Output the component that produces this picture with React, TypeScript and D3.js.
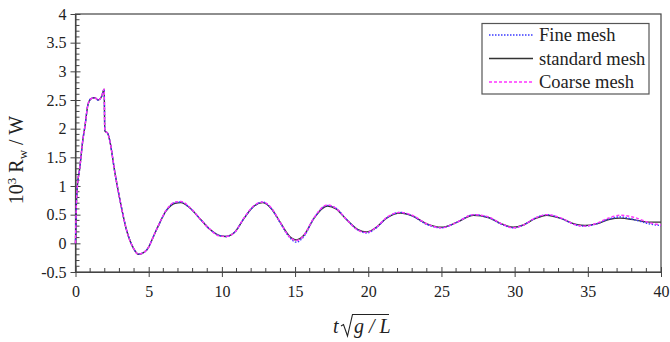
import React, { useRef, useEffect } from 'react';
import * as d3 from 'd3';

// time axis t*sqrt(g/L), shared by all three runs
const tValues = [
    0, 0.05, 0.1, 0.3, 0.5, 0.65, 0.85, 1.05, 1.3, 1.55, 1.78, 1.96, 2.0, 2.2, 2.35, 2.7, 3.05, 3.5, 3.95, 4.3,
    4.85, 5.5, 6.2, 6.8, 7.2, 7.8, 8.5, 9.2, 9.8, 10.3, 10.9, 11.5, 12.2, 12.8, 13.4, 14.0, 14.6, 15.1, 15.6, 16.3,
    17.2, 17.8, 18.5, 19.3, 19.9, 20.5, 21.3, 22.2, 23.0, 24.0, 25.0, 26.0, 27.2, 28.2, 29.2, 29.9, 30.6, 31.4, 32.2, 33.2,
    34.2, 34.8, 35.6, 36.5, 37.2, 38.2, 39.2, 40,
];

const standardValues = [
    0, 0.6, 0.9, 1.33, 1.8, 2.05, 2.42, 2.52, 2.54, 2.5, 2.56, 2.69, 1.96, 1.92, 1.78, 1.22, 0.74, 0.22, -0.08, -0.19,
    -0.12, 0.22, 0.57, 0.7, 0.71, 0.62, 0.43, 0.24, 0.14, 0.12, 0.2, 0.43, 0.65, 0.71, 0.6, 0.36, 0.13, 0.06, 0.14, 0.44,
    0.65, 0.6, 0.42, 0.24, 0.2, 0.27, 0.45, 0.53, 0.48, 0.34, 0.28, 0.36, 0.49, 0.45, 0.33, 0.28, 0.32, 0.43, 0.49, 0.43,
    0.33, 0.31, 0.34, 0.42, 0.44, 0.41, 0.37, 0.37,
];

const fineValues = [
    0, 0.6, 0.9, 1.33, 1.8, 2.05, 2.42, 2.52, 2.54, 2.5, 2.56, 2.69, 1.96, 1.92, 1.78, 1.22, 0.74, 0.22, -0.08, -0.19,
    -0.12, 0.22, 0.57, 0.71, 0.72, 0.62, 0.43, 0.24, 0.14, 0.12, 0.2, 0.43, 0.65, 0.72, 0.6, 0.35, 0.11, 0.02, 0.12, 0.44,
    0.66, 0.61, 0.42, 0.23, 0.18, 0.26, 0.45, 0.54, 0.48, 0.33, 0.27, 0.36, 0.5, 0.45, 0.32, 0.27, 0.32, 0.44, 0.5, 0.43,
    0.32, 0.3, 0.34, 0.43, 0.46, 0.41, 0.34, 0.31,
];

const coarseValues = [
    0, 0.6, 0.9, 1.33, 1.8, 2.05, 2.42, 2.52, 2.54, 2.5, 2.56, 2.69, 1.96, 1.92, 1.78, 1.22, 0.74, 0.22, -0.08, -0.19,
    -0.12, 0.22, 0.58, 0.72, 0.73, 0.63, 0.43, 0.24, 0.13, 0.12, 0.2, 0.44, 0.66, 0.72, 0.61, 0.36, 0.12, 0.05, 0.14, 0.45,
    0.67, 0.61, 0.42, 0.23, 0.19, 0.27, 0.46, 0.54, 0.49, 0.34, 0.27, 0.36, 0.5, 0.46, 0.33, 0.27, 0.32, 0.44, 0.5, 0.44,
    0.32, 0.3, 0.35, 0.45, 0.49, 0.45, 0.36, 0.32,
];

const seriesNames = ['Fine mesh', 'standard mesh', 'Coarse mesh'];
const xTicks = [0, 5, 10, 15, 20, 25, 30, 35, 40];
const yTicks = [-0.5, 0, 0.5, 1, 1.5, 2, 2.5, 3, 3.5, 4];

const serif = '"Liberation Serif", "Times New Roman", serif';

const App: React.FC = () => {
    const svgRef = useRef<SVGSVGElement | null>(null);

    useEffect(() => {
        if (!svgRef.current) return;
        const svg = d3.select(svgRef.current);
        svg.selectAll('*').remove();

        const left = 75.5, right = 661, top = 14, bottom = 272;
        const x = d3.scaleLinear().domain([0, 40]).range([left, right]);
        const y = d3.scaleLinear().domain([-0.5, 4]).range([bottom, top]);

        svg.append('rect').attr('width', 670).attr('height', 342).attr('fill', 'white');

        // frame
        svg.append('rect')
            .attr('x', left).attr('y', top)
            .attr('width', right - left).attr('height', bottom - top)
            .attr('fill', 'none').attr('stroke', '#444').attr('stroke-width', 1.2);

        // minor ticks, inside
        const minorX = d3.range(0, 40.001, 1).filter(v => v % 5 !== 0);
        svg.append('g').selectAll('line').data(minorX).enter().append('line')
            .attr('x1', d => x(d)).attr('x2', d => x(d))
            .attr('y1', bottom).attr('y2', bottom - 4)
            .attr('stroke', '#444');
        const minorY = d3.range(-5, 41).map(v => v / 10).filter(v => Math.round(v * 10) % 5 !== 0);
        svg.append('g').selectAll('line').data(minorY).enter().append('line')
            .attr('x1', left).attr('x2', left + 4)
            .attr('y1', d => y(d)).attr('y2', d => y(d))
            .attr('stroke', '#444');

        // major ticks cross the axis
        const xAxis = svg.append('g')
            .attr('transform', `translate(0,${bottom})`)
            .call(d3.axisBottom(x).tickValues(xTicks).tickSizeInner(5).tickSizeOuter(0).tickPadding(9).tickFormat(d => String(d)));
        xAxis.select('.domain').attr('stroke', '#444');
        xAxis.selectAll('.tick line').attr('y1', -5).attr('stroke', '#444');
        xAxis.selectAll('text').attr('font-family', serif).attr('font-size', 16).attr('fill', '#222');

        const yAxis = svg.append('g')
            .attr('transform', `translate(${left},0)`)
            .call(d3.axisLeft(y).tickValues(yTicks).tickSizeInner(5).tickSizeOuter(0).tickPadding(4).tickFormat(d => String(d)));
        yAxis.select('.domain').attr('stroke', '#444');
        yAxis.selectAll('.tick line').attr('x1', 5).attr('stroke', '#444');
        yAxis.selectAll('text').attr('font-family', serif).attr('font-size', 16).attr('fill', '#222');

        // curves
        const line = d3.line<number>()
            .x((_, i) => x(tValues[i]))
            .y(d => y(d))
            .curve(d3.curveMonotoneX);

        const styles = [
            { values: fineValues, color: '#3a3aff', dash: '1.5,1.5', width: 1.4 },
            { values: standardValues, color: '#333', dash: null, width: 1.4 },
            { values: coarseValues, color: '#ff33ff', dash: '3,2', width: 1.4 },
        ];
        const order = [1, 0, 2];
        order.forEach(k => {
            const s = styles[k];
            svg.append('path')
                .attr('d', line(s.values) || '')
                .attr('fill', 'none')
                .attr('stroke', s.color)
                .attr('stroke-width', s.width)
                .attr('stroke-dasharray', s.dash);
        });

        // legend
        const legend = svg.append('g');
        legend.append('rect')
            .attr('x', 482).attr('y', 23.5).attr('width', 167).attr('height', 70.5)
            .attr('fill', 'white').attr('stroke', '#555').attr('stroke-width', 1.2);
        seriesNames.forEach((name, i) => {
            const ly = 35 + i * 23.5;
            const s = styles[i];
            legend.append('line')
                .attr('x1', 489).attr('x2', 533).attr('y1', ly).attr('y2', ly)
                .attr('stroke', s.color).attr('stroke-width', 1.4)
                .attr('stroke-dasharray', s.dash);
            legend.append('text')
                .attr('x', 539).attr('y', ly + 6)
                .attr('font-family', serif).attr('font-size', 18.5).attr('fill', '#222')
                .text(name);
        });

        // y axis title: 10^3 R_w / W
        const yt = svg.append('text')
            .attr('transform', 'translate(23,160) rotate(-90)')
            .attr('text-anchor', 'middle')
            .attr('font-family', serif).attr('font-size', 20).attr('fill', '#222');
        yt.append('tspan').text('10');
        yt.append('tspan').attr('dy', -7).attr('font-size', 13).text('3');
        yt.append('tspan').attr('dy', 7).text(' R');
        yt.append('tspan').attr('dy', 4).attr('font-size', 13).text('w');
        yt.append('tspan').attr('dy', -4).text(' / W');

        // x axis title: t sqrt(g / L)
        const xt = svg.append('g').attr('font-family', serif).attr('font-size', 20).attr('fill', '#222');
        xt.append('text').attr('x', 333).attr('y', 333).attr('font-style', 'italic').text('t');
        xt.append('path')
            .attr('d', 'M341,326 L343.5,324.5 L347.5,336 L352.5,314.5 L389,314.5')
            .attr('fill', 'none').attr('stroke', '#222').attr('stroke-width', 1.1);
        xt.append('text').attr('x', 354).attr('y', 333).attr('font-style', 'italic').text('g / L');
    }, []);

    return (
        <div style={{ position: 'absolute', left: 0, top: 0, width: 670, height: 342 }}>
            <svg ref={svgRef} width={670} height={342}></svg>
        </div>
    );
};

export default App;
